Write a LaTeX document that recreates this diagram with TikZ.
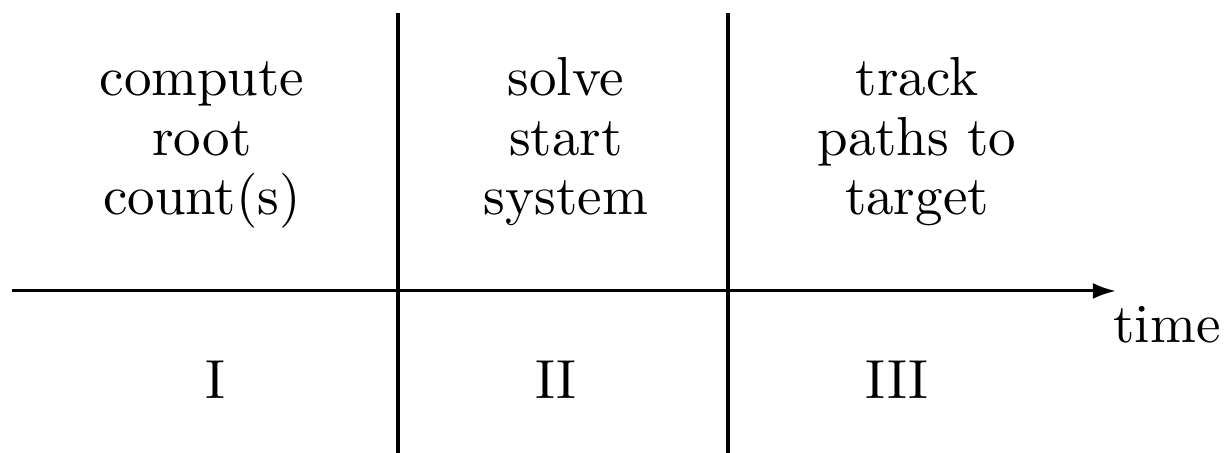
\documentclass[tikz,border=0pt]{standalone}
\usetikzlibrary{arrows.meta}
\begin{document}
\begin{tikzpicture}[x=0.1818pt,y=-0.1818pt,
  rule/.style={line width=0.55pt},
  lbl/.style={anchor=base,inner sep=0pt,outer sep=0pt},
  >={Latex[length=4.2pt,width=2.9pt]}]
\useasboundingbox (0,0) rectangle (1226,453);
\coordinate (hstart) at (12,291);
\coordinate (hend) at (1116,291);
\coordinate (v1top) at (398,13);
\coordinate (v1bot) at (398,453);
\coordinate (v2top) at (728,13);
\coordinate (v2bot) at (728,453);
\draw[rule] (v1top) -- (v1bot);
\draw[rule] (v2top) -- (v2bot);
\draw[rule,->] (hstart) -- (hend);
% column 1
\node[lbl] (c1a) at (202,96) {compute};
\node[lbl] (c1b) at (202,156) {root};
\node[lbl] (c1c) at (202,215) {count(s)};
% column 2
\node[lbl] (c2a) at (566,96) {solve};
\node[lbl] (c2b) at (566,156) {start};
\node[lbl] (c2c) at (566,215) {system};
% column 3
\node[lbl] (c3a) at (917,96) {track};
\node[lbl] (c3b) at (917,156) {paths to};
\node[lbl] (c3c) at (917,215) {target};
% phases
\node[lbl] (p1) at (215,399) {I};
\node[lbl] (p2) at (556,399) {II};
\node[lbl] (p3) at (897,399) {III};
\node[lbl] (time) at (1167,343) {time};
\end{tikzpicture}
\end{document}
